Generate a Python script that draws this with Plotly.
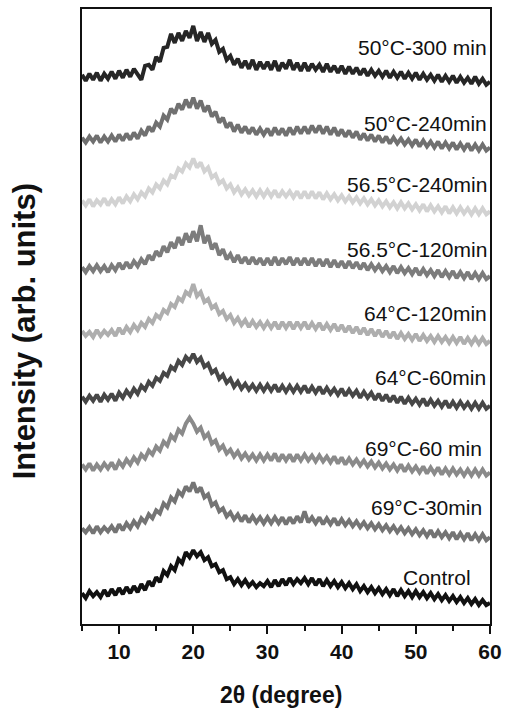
import numpy as np
import plotly.graph_objects as go

# 2-theta sampling grid (degrees)
two_theta = np.arange(5.0, 60.0 + 0.25, 0.5)

sample_names = ["50°C-300 min", "50°C-240min", "56.5°C-240min", "56.5°C-120min",
                "64°C-120min", "64°C-60min", "69°C-60 min", "69°C-30min", "Control"]

# vertical stacking offset of each pattern (arb. units)
stack_offsets = [548, 486, 422, 356, 291, 226, 157, 94, 29]

# intensities relative to each pattern's own baseline (arb. units), read at 0.5 deg steps
i_50_300 = [3,-3,4,-2,5,-3,4,-1,6,-1, 7,0,8,1,9,3,-2,12,13,8, 21,16,30,31,44,35,45,37,47,40,
            52,37,46,36,45,34,38,26,29,18, 22,13,19,10,17,9,18,8,16,9, 16,8,17,7,15,9,18,8,15,7,
            15,7,14,8,13,6,14,6,12,5, 12,4,11,4,10,3,9,2,8,2, 7,1,7,0,6,0,6,-1,5,-1,
            5,-2,4,-2,3,-3,3,-4,2,-4, 2,-5,1,-5,0,-6,1,-6,-1,-7, -4]
i_50_240 = [2,-3,3,-2,4,-3,3,-2,4,-2, 5,-1,6,0,7,1,9,4,13,8, 17,13,24,20,31,26,36,30,40,32,
            42,31,39,28,34,23,28,17,22,12, 17,8,15,7,13,6,12,5,11,5, 11,4,12,5,11,4,12,5,13,6,
            13,6,14,7,14,6,13,5,12,4, 10,3,9,2,8,0,6,-1,5,-2, 4,-3,3,-4,2,-4,1,-5,0,-6,
            0,-7,-1,-7,-2,-8,-2,-9,-3,-9, -3,-10,-4,-10,-4,-11,-5,-11,-5,-11, -8]
i_565_240 = [3,-2,4,-3,3,-1,5,-2,4,-1, 6,0,7,2,9,4,11,7,15,11, 19,15,23,19,28,26,35,32,40,36,
             45,36,41,32,36,26,29,20,23,15, 19,11,16,9,14,8,13,7,13,7, 13,7,13,6,12,7,12,6,12,5,
             12,5,12,5,11,4,10,4,9,3, 8,2,7,1,6,0,5,-1,4,-2, 3,-3,2,-4,1,-5,1,-5,0,-6,
             -1,-7,-1,-8,-2,-8,-3,-9,-3,-10, -4,-10,-4,-10,-5,-11,-5,-11,-5,-11, -8]
i_565_120 = [2,-3,3,-2,4,-2,3,-3,4,-1, 6,0,7,1,8,3,10,5,14,9, 18,13,23,17,27,21,32,24,36,27,
             38,28,44,26,34,20,26,14,20,10, 15,7,14,6,12,5,12,5,11,4, 11,4,12,4,11,5,12,4,11,4,
             11,4,11,3,10,3,10,2,9,2, 8,1,8,1,7,0,6,-1,5,-1, 4,-2,3,-3,3,-4,2,-4,1,-5,
             1,-6,0,-6,-1,-7,-1,-8,-2,-8, -2,-9,-3,-9,-3,-10,-4,-10,-4,-10, -7]
i_64_120 = [3,-2,2,-3,4,-2,3,-1,4,-2, 6,0,7,2,9,4,11,7,15,11, 19,16,24,21,30,27,36,33,42,39,
            50,38,42,32,35,26,29,20,23,15, 19,11,16,9,14,7,13,7,12,6, 12,6,12,5,12,6,12,5,12,6,
            12,5,11,5,11,4,10,4,10,3, 9,2,8,1,7,0,6,-1,5,-2, 4,-3,3,-4,2,-5,1,-5,0,-6,
            0,-7,-1,-7,-2,-8,-2,-8,-3,-9, -3,-9,-3,-10,-4,-10,-4,-10,-4,-10, -7]
i_64_60 = [2,-3,3,-2,4,-3,4,-1,5,-2, 6,1,8,3,10,5,13,9,17,13, 21,18,26,23,32,29,38,34,42,38,
           45,37,41,32,35,26,29,20,24,16, 20,12,17,10,15,9,14,8,14,8, 14,8,14,7,13,7,13,7,13,7,
           13,6,12,6,12,5,11,5,10,4, 10,3,9,3,8,1,7,1,6,-1, 5,-2,4,-3,3,-4,2,-5,1,-5,
           0,-6,0,-7,-1,-7,-2,-8,-2,-9, -3,-9,-3,-9,-4,-10,-4,-10,-4,-10, -7]
i_69_60 = [3,-2,4,-3,3,-2,4,-1,5,-2, 6,1,8,3,10,5,13,9,17,13, 21,17,26,22,32,28,38,34,44,50,
           44,36,40,30,34,24,27,18,22,14, 18,11,16,9,14,8,13,7,13,7, 13,7,14,6,13,7,13,6,13,7,
           13,7,12,6,12,6,11,5,11,4, 10,3,9,3,8,2,7,1,6,0, 5,-1,4,-2,3,-3,3,-4,2,-4,
           1,-5,1,-6,0,-6,0,-7,-1,-7, -1,-7,-2,-8,-2,-8,-2,-8,-2,-8, -5]
i_69_30 = [2,-2,3,-3,4,-2,3,-1,4,-2, 6,0,7,2,9,4,12,8,16,12, 20,17,27,23,33,29,39,35,44,39,
           48,38,43,33,36,25,28,19,22,14, 18,11,16,9,15,8,14,8,13,7, 13,7,13,7,13,6,13,7,14,8,
           19,8,13,7,13,6,12,6,12,5, 11,5,10,4,9,3,8,2,7,1, 6,0,5,-1,4,-2,3,-3,2,-4,
           1,-5,0,-6,0,-7,-1,-7,-2,-8, -2,-9,-3,-9,-3,-10,-4,-10,-4,-10, -7]
i_control = [2,-3,4,-1,3,-2,5,-1,6,0, 7,1,8,2,9,3,11,5,14,9, 18,13,24,20,29,25,36,32,43,38,
             45,39,43,35,38,29,31,23,25,16, 18,11,16,10,15,9,13,8,12,9, 14,8,15,9,16,10,17,11,16,12,
             17,11,17,10,16,9,15,9,14,8, 13,7,12,6,11,4,9,3,8,2, 7,1,6,0,6,-1,5,-1,4,-2,
             4,-2,3,-3,2,-4,1,-5,0,-6, -1,-7,-2,-8,-3,-9,-4,-10,-5,-10, -8]

intensities = [i_50_300, i_50_240, i_565_240, i_565_120, i_64_120,
               i_64_60, i_69_60, i_69_30, i_control]

line_colors = ["#262626", "#707070", "#d2d2d2", "#7c7c7c", "#aeaeae",
               "#474747", "#8a8a8a", "#747474", "#111111"]

# label anchor (x in degrees, y in arb. units)
label_x = [59.85, 59.85, 59.85, 59.85, 59.85, 59.75, 59.2, 59.2, 57.7]
label_y = [578, 502, 441, 376, 312, 247, 176, 117, 47]

FONT = "Liberation Sans, Arial, sans-serif"

fig = go.Figure()
for name, vals, off, col in zip(sample_names, intensities, stack_offsets, line_colors):
    fig.add_trace(go.Scatter(
        x=two_theta, y=np.array(vals) + off, mode="lines", name=name,
        line=dict(color=col, width=4), showlegend=False,
    ))

for name, lx, ly in zip(sample_names, label_x, label_y):
    fig.add_annotation(x=lx, y=ly, xref="x", yref="y", text=name, showarrow=False,
                       xanchor="right", yanchor="middle",
                       font=dict(family=FONT, size=21, color="#111111"))

fig.add_annotation(x=-0.139, y=0.4765, xref="paper", yref="paper",
                   text="<b>Intensity (arb. units)</b>", textangle=-90, showarrow=False,
                   xanchor="center", yanchor="middle",
                   font=dict(family=FONT, size=31, color="#111111"))
fig.add_annotation(x=0.487, y=-0.115, xref="paper", yref="paper",
                   text="<b>2θ (degree)</b>", showarrow=False,
                   xanchor="center", yanchor="middle",
                   font=dict(family=FONT, size=23, color="#111111"))

fig.update_layout(
    width=509, height=711,
    margin=dict(l=82, r=16, t=7, b=87),
    paper_bgcolor="white", plot_bgcolor="white",
    xaxis=dict(range=[5, 60], tickvals=[10, 20, 30, 40, 50, 60],
               ticktext=["<b>10</b>", "<b>20</b>", "<b>30</b>", "<b>40</b>", "<b>50</b>", "<b>60</b>"],
               ticks="outside", ticklen=8, tickwidth=2, tickcolor="#111111",
               minor=dict(tickvals=[5, 15, 25, 35, 45, 55], ticks="outside", ticklen=5,
                          tickwidth=2, tickcolor="#111111"),
               showline=True, linewidth=2, linecolor="#111111", mirror=True,
               showgrid=False, zeroline=False,
               tickfont=dict(family=FONT, size=21, color="#111111")),
    yaxis=dict(range=[0, 617], showticklabels=False, ticks="",
               showline=True, linewidth=2, linecolor="#111111", mirror=True,
               showgrid=False, zeroline=False),
)

fig.write_html("out.html", config={"displayModeBar": False},
               post_script="document.body.style.margin='0';")
